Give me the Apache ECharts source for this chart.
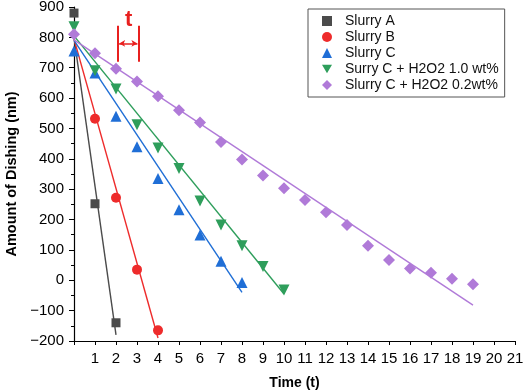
<!DOCTYPE html>
<html><head><meta charset="utf-8">
<script src="https://cdn.jsdelivr.net/npm/echarts@6/dist/echarts.min.js"></script>
<style>html,body{margin:0;padding:0;background:#fff}#c{width:523px;height:392px}</style>
</head><body><div id="c"></div>
<script>
var seriesNames = ['Slurry A','Slurry B','Slurry C','Surry C + H2O2 1.0 wt%','Slurry C + H2O2 0.2wt%'];
var slurryA = [[0,880],[1,252],[2,-140]];
var slurryB = [[1,532],[2,272],[3,35],[4,-165]];
var slurryC = [[0,755],[1,683],[2,540],[3,440],[4,335],[5,232],[6,149],[7,63],[8,-7]];
var slurryCH10 = [[0,835],[1,690],[2,630],[3,512],[4,436],[5,368],[6,261],[7,182],[8,114],[9,45],[10,-32]];
var slurryCH02 = [[0,810],[1,748],[2,697],[3,655],[4,606],[5,560],[6,520],[7,455],[8,398],[9,345],[10,303],[11,264],[12,224],[13,182],[14,114],[15,67],[16,39],[17,25],[18,5],[19,-13]];
// linear fit line endpoints
var fitA = [[0,800],[2,-180]];
var fitB = [[0,795],[4,-190]];
var fitC = [[0,790],[8,-40]];
var fitCH10 = [[0,805],[10,-45]];
var fitCH02 = [[0,792],[19,-82]];
var xTicks = [0,21,1];
var yTicks = [-200,900,100];
var colors = ['#4b4b4b','#ee2b2b','#1f6ed6','#2e9e5b','#b07ad8'];
var downTri = 'path://M0,0 L10,0 L5,8.66 Z';
var symbols = ['rect','circle','triangle',downTri,'diamond'];
var symSizes = [9,10,11,11,12];

var pts = [slurryA, slurryB, slurryC, slurryCH10, slurryCH02];
var fits = [fitA, fitB, fitC, fitCH10, fitCH02];
var series = [];
for (var i=0;i<5;i++){
  series.push({name:seriesNames[i],type:'line',data:fits[i],showSymbol:false,symbol:'none',
    lineStyle:{color:colors[i],width:1.4},silent:true,z:2});
}
for (var i=0;i<5;i++){
  series.push({name:seriesNames[i],type:'scatter',data:pts[i],symbol:symbols[i],symbolSize:symSizes[i],
    itemStyle:{color:colors[i],opacity:1},z:3});
}
// annotation "t"
series.push({type:'line',data:[],silent:true,
  markLine:{silent:true,symbol:'none',animation:false,lineStyle:{color:'#e8201f',width:2,type:'solid'},label:{show:false},
    data:[[{coord:[2.1,838]},{coord:[2.1,720]}],[{coord:[3.07,838]},{coord:[3.07,720]}]]}});
series.push({type:'line',data:[],silent:true,
  markLine:{silent:true,symbol:['arrow','arrow'],symbolSize:[5,6],animation:false,lineStyle:{color:'#e8201f',width:1.5,type:'solid'},label:{show:false},
    data:[[{coord:[2.15,780]},{coord:[3.02,780]}]]}});
series.push({type:'line',data:[],silent:true,
  markPoint:{silent:true,symbol:'circle',symbolSize:0,animation:false,
    label:{show:true,formatter:'t',color:'#e8201f',fontSize:22,fontWeight:'bold',fontFamily:'Liberation Sans'},
    data:[{coord:[2.6,856]}]}});

function minus(v){ return String(v).replace('-','\u2212'); }

var chart = echarts.init(document.getElementById('c'));
chart.setOption({
  animation:false,
  color:colors,
  textStyle:{fontFamily:'Liberation Sans'},
  grid:{left:74,top:7,right:8,bottom:51,containLabel:false,outerBoundsMode:'none'},
  legend:{
    data:seriesNames.map(function(n,i){return {name:n,icon:symbols[i]};}),
    orient:'vertical',left:308,top:9,
    itemWidth:10,itemHeight:10,itemGap:2,
    padding:[5,6,5,14],
    borderColor:'#555',borderWidth:1,
    textStyle:{fontSize:14,color:'#111',fontFamily:'Liberation Sans',padding:[0,0,0,8]},
    selectedMode:false
  },
  xAxis:{type:'value',min:xTicks[0],max:xTicks[1],interval:xTicks[2],
    name:'Time (t)',nameLocation:'middle',nameGap:35,
    nameTextStyle:{fontSize:14,fontWeight:'bold',color:'#000'},
    axisLine:{show:true,onZero:false,lineStyle:{color:'#000',width:1.2}},
    axisTick:{show:true,length:4,lineStyle:{color:'#000'}},
    axisLabel:{fontSize:15,color:'#000',margin:10,formatter:function(v){return v===0?'':v;}},
    splitLine:{show:false}},
  yAxis:{type:'value',min:yTicks[0],max:yTicks[1],interval:yTicks[2],
    name:'Amount of Dishing (nm)',nameLocation:'middle',nameGap:46,
    nameTextStyle:{fontSize:14.5,fontWeight:'bold',color:'#000'},
    axisLine:{show:true,onZero:false,lineStyle:{color:'#000',width:1.2}},
    axisTick:{show:true,length:5,lineStyle:{color:'#000'}},
    minorTick:{show:true,splitNumber:2,length:3,lineStyle:{color:'#000'}},
    axisLabel:{fontSize:15,color:'#000',margin:10,formatter:minus},
    splitLine:{show:false}},
  series:series
});
</script></body></html>
